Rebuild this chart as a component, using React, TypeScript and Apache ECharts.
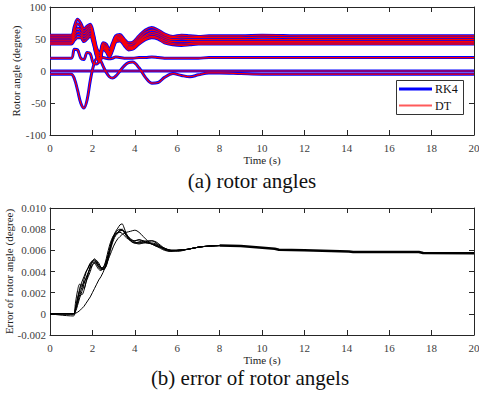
import React, { useEffect, useRef } from "react";
import * as echarts from "echarts";

// ---------- (a) rotor angles ----------
const angleTime = [0, 1.0, 1.15, 1.3, 1.45, 1.6, 1.75, 1.9, 2.05, 2.2, 2.35, 2.5, 2.65, 2.8, 2.95, 3.1, 3.3, 3.5, 3.7, 3.9, 4.2, 4.5, 4.8, 5.1, 5.4, 5.8, 6.2, 6.6, 7.0, 7.5, 8.0, 9.0, 10.0, 12, 20];

const gen1 = [56, 56, 70, 81, 75, 66, 70, 73, 58, 36, 28, 44, 42, 34, 44, 55, 57, 50, 44, 45, 55, 64, 68, 64, 58, 54, 56, 55, 54, 55, 55, 55, 56, 55, 55];
const gen2 = [53, 53, 65, 74, 70, 62, 66, 70, 55, 32, 24, 42, 38, 30, 41, 53, 55, 48, 41, 42, 51, 60, 64, 61, 56, 52, 53, 52, 52, 52, 52, 52, 53, 52, 52];
const gen3 = [50, 50, 60, 67, 65, 58, 62, 67, 52, 28, 20, 40, 36, 28, 38, 51, 53, 46, 39, 39, 48, 56, 60, 58, 53, 49, 50, 49, 49, 49, 49, 49, 49, 49, 49];
const gen4 = [47, 47, 56, 62, 60, 54, 58, 63, 48, 26, 18, 38, 34, 26, 36, 49, 51, 44, 37, 37, 46, 54, 57, 55, 50, 46, 46, 46, 46, 46, 46, 46, 46, 46, 46];
const gen5 = [44, 44, 52, 57, 56, 50, 54, 59, 45, 24, 16, 36, 32, 24, 34, 47, 49, 42, 35, 35, 44, 51, 54, 52, 47, 43, 42, 43, 44, 44, 44, 44, 44, 44, 44];
const gen6 = [42, 42, 48, 52, 52, 46, 50, 55, 42, 22, 14, 34, 30, 22, 32, 45, 47, 40, 33, 34, 42, 49, 52, 50, 44, 41, 40, 41, 42, 42, 42, 42, 42, 42, 42];
const gen7 = [20, 20, 34, 33, 20, 18, 29, 27, 12, 11, 17, 21, 20, 19, 20, 22, 21, 20, 20, 20, 21, 21, 22, 21, 20, 20, 20, 20, 20, 21, 21, 21, 21, 21, 21];
const gen8 = [0, 0, 0, 0, 0, 0, 0, 0, 0, 0, 0, 0, 0, 0, 0, 0, 0, 0, 0, 0, 0, 0, 0, 0, 0, 0, 0, 0, 0, 0, 0, 0, 0, 0, 0];
const gen9 = [-5, -5, -12, -30, -50, -58, -45, -15, 8, 19, 18, 8, -2, -9, -11, -8, 0, 8, 13, 14, 5, -10, -19, -18, -10, -4, -7, -9, -6, -3, -3, -4, -5, -5, -5];

const angleSeriesValues = [gen1, gen2, gen3, gen4, gen5, gen6, gen7, gen8, gen9];

const legendNames = ["RK4", "DT"];

// ---------- (b) error of rotor angles (in units of 0.001 degree) ----------
const errTime = [0, 1.1, 1.2, 1.3, 1.4, 1.5, 1.6, 1.7, 1.8, 1.9, 2.0, 2.1, 2.2, 2.3, 2.4, 2.5, 2.6, 2.7, 2.8, 2.9, 3.0, 3.1, 3.2, 3.3, 3.4, 3.5, 3.6, 3.8, 4.0, 4.2, 4.4, 4.6, 4.8, 5.0, 5.2, 5.4, 5.7, 6.0, 6.5, 7.0, 7.5, 8.0];

const err1 = [0, 0, 1.0, 2.2, 2.8, 2.6, 3.2, 3.9, 4.4, 4.8, 5.0, 5.0, 4.7, 4.4, 4.3, 4.4, 4.7, 5.3, 6.0, 6.7, 7.2, 7.5, 7.7, 7.9, 7.9, 7.7, 7.4, 7.0, 6.9, 7.0, 6.8, 6.7, 6.6, 6.5, 6.3, 6.1, 6.0, 6.0, 6.1, 6.3, 6.4, 6.45];
const err2 = [0, 0, 0.6, 1.5, 2.2, 2.8, 2.4, 3.0, 3.8, 4.5, 5.0, 5.1, 4.8, 4.4, 4.2, 4.2, 4.5, 5.2, 6.0, 6.8, 7.4, 7.8, 8.1, 8.4, 8.5, 8.1, 7.6, 6.9, 6.7, 6.8, 6.9, 6.8, 6.6, 6.4, 6.2, 6.0, 5.9, 6.0, 6.1, 6.3, 6.4, 6.45];
const err3 = [0, -0.2, 0.3, 1.0, 1.8, 2.5, 3.0, 3.3, 3.8, 4.4, 4.9, 5.2, 5.0, 4.6, 4.3, 4.2, 4.3, 4.8, 5.6, 6.4, 7.0, 7.4, 7.6, 7.8, 7.9, 7.8, 7.5, 7.1, 6.9, 7.0, 6.9, 6.7, 6.7, 6.6, 6.4, 6.2, 6.0, 6.0, 6.1, 6.3, 6.4, 6.45];
const err4 = [0, 0, 0.4, 1.2, 2.0, 1.8, 2.2, 3.0, 3.5, 4.0, 4.6, 4.9, 5.0, 4.8, 4.4, 4.2, 4.3, 4.9, 5.8, 6.6, 7.2, 7.5, 7.7, 7.9, 8.0, 7.8, 7.4, 6.9, 6.7, 6.7, 6.8, 6.9, 6.9, 6.7, 6.4, 6.1, 5.9, 6.0, 6.1, 6.3, 6.4, 6.45];
const err5 = [0, 0, 0.05, 0.15, 0.3, 0.5, 0.7, 1.0, 1.3, 1.6, 2.0, 2.4, 2.8, 3.2, 3.5, 3.9, 4.4, 4.9, 5.4, 5.9, 6.4, 6.8, 7.1, 7.3, 7.5, 7.6, 7.7, 7.8, 7.9, 7.7, 7.3, 6.9, 6.6, 6.4, 6.3, 6.2, 6.0, 5.9, 6.1, 6.3, 6.4, 6.45];
const err6 = [0, 0, 0.5, 1.4, 2.4, 3.0, 3.5, 4.0, 4.3, 4.7, 4.9, 4.8, 4.5, 4.2, 4.1, 4.3, 4.8, 5.6, 6.4, 7.0, 7.4, 7.6, 7.7, 7.7, 7.6, 7.4, 7.2, 6.9, 6.7, 6.6, 6.7, 6.8, 6.9, 6.8, 6.5, 6.2, 6.0, 6.0, 6.1, 6.3, 6.4, 6.45];
const err7 = [0, 0, 0.2, 0.8, 1.5, 2.1, 2.8, 3.4, 3.9, 4.3, 4.6, 4.8, 4.8, 4.6, 4.4, 4.3, 4.5, 5.1, 5.9, 6.7, 7.3, 7.7, 7.9, 8.0, 7.9, 7.7, 7.4, 7.0, 6.8, 6.7, 6.7, 6.7, 6.6, 6.5, 6.3, 6.1, 6.0, 6.0, 6.1, 6.3, 6.4, 6.45];

const errSeriesValues = [err1, err2, err3, err4, err5, err6, err7];

const errTailTime = [8.0, 9.0, 10.6, 10.8, 12, 14.1, 14.3, 17.4, 17.6, 20];
const errTail = [6.45, 6.4, 6.15, 6.05, 6.0, 5.9, 5.85, 5.85, 5.75, 5.72];

const FONT = "'Liberation Serif', 'Times New Roman', serif";
const AXIS_COLOR = "#262626";
const LABEL_COLOR = "#404040";

function pairs(t: number[], v: number[]) {
  return t.map((x, i) => [x, v[i]]);
}

function xAxisDef(grid: number, pos: "bottom" | "top", withName: boolean) {
  return {
    type: "value",
    gridIndex: grid,
    position: pos,
    min: 0,
    max: 20,
    interval: 2,
    axisLine: { show: true, onZero: false, lineStyle: { color: AXIS_COLOR, width: 1 } },
    axisTick: { show: true, inside: true, length: 5, lineStyle: { color: AXIS_COLOR } },
    axisLabel: { show: pos === "bottom", color: LABEL_COLOR, fontFamily: FONT, fontSize: 11, margin: 7 },
    splitLine: { show: false },
    name: withName ? "Time (s)" : "",
    nameLocation: "middle",
    nameGap: 19,
    nameMoveOverlap: false,
    nameTextStyle: { color: "#222", fontFamily: FONT, fontSize: 11 },
  };
}

function yAxisDef(grid: number, pos: "left" | "right", min: number, max: number, interval: number, name: string, fmt?: (v: number) => string, gap = 30) {
  return {
    type: "value",
    gridIndex: grid,
    position: pos,
    min,
    max,
    interval,
    axisLine: { show: true, onZero: false, lineStyle: { color: AXIS_COLOR, width: 1 } },
    axisTick: { show: true, inside: true, length: 5, lineStyle: { color: AXIS_COLOR } },
    axisLabel: { show: pos === "left", color: LABEL_COLOR, fontFamily: FONT, fontSize: 11, margin: 4, formatter: fmt },
    splitLine: { show: false },
    name: pos === "left" ? name : "",
    nameLocation: "middle",
    nameGap: gap,
    nameMoveOverlap: false,
    nameTextStyle: { color: "#222", fontFamily: FONT, fontSize: 11 },
  };
}

function legendText(text: string, x: number, y: number) {
  return {
    type: "text",
    x,
    y,
    z: 101,
    style: {
      text,
      font: "12px " + FONT,
      fill: "#111",
      align: "left",
      verticalAlign: "middle",
      textAlign: "left",
      textVerticalAlign: "middle",
    },
  };
}

export default function App() {
  const ref = useRef<HTMLDivElement>(null);
  useEffect(() => {
    if (!ref.current) return;
    const chart = echarts.init(ref.current, null, { renderer: "svg" });

    const blue = angleSeriesValues.map((g) => ({
      type: "line",
      name: legendNames[0],
      xAxisIndex: 0,
      yAxisIndex: 0,
      data: pairs(angleTime, g),
      symbol: "none",
      smooth: 0.35,
      lineStyle: { color: "#0000ff", width: 3 },
      itemStyle: { color: "#0000ff" },
      z: 2,
    }));
    const red = angleSeriesValues.map((g) => ({
      type: "line",
      name: legendNames[1],
      xAxisIndex: 0,
      yAxisIndex: 0,
      data: pairs(angleTime, g),
      symbol: "none",
      smooth: 0.35,
      lineStyle: { color: "#ff0000", width: 1.2 },
      itemStyle: { color: "#ff0000" },
      z: 3,
    }));
    const errs = errSeriesValues.map((e, i) => ({
      type: "line",
      name: "err" + i,
      xAxisIndex: 2,
      yAxisIndex: 2,
      data: pairs(errTime, e),
      symbol: "none",
      smooth: 0.35,
      lineStyle: { color: "#000000", width: 1 },
      z: 2,
    }));
    const tail = {
      type: "line",
      name: "errTail",
      xAxisIndex: 2,
      yAxisIndex: 2,
      data: pairs(errTailTime, errTail),
      symbol: "none",
      lineStyle: { color: "#000000", width: 2.5 },
      z: 2,
    };

    chart.setOption({
      animation: false,
      backgroundColor: "#ffffff",
      grid: [
        { left: 50, top: 7, width: 424, height: 128, outerBoundsMode: "none", containLabel: false },
        { left: 50, top: 208, width: 424, height: 127, outerBoundsMode: "none", containLabel: false },
      ],
      title: [
        { text: "(a) rotor angles", left: 252, top: 172, textAlign: "center", textStyle: { fontFamily: FONT, fontSize: 21, lineHeight: 18, fontWeight: "normal", color: "#111" }, padding: 0 },
        { text: "(b) error of rotor angels", left: 250, top: 369, textAlign: "center", textStyle: { fontFamily: FONT, fontSize: 21, lineHeight: 18, fontWeight: "normal", color: "#111" }, padding: 0 },
      ],
      graphic: [
        { type: "rect", z: 100, shape: { x: 396.5, y: 80.5, width: 67, height: 34 }, style: { fill: "#ffffff", stroke: "#333333", lineWidth: 1 } },
        { type: "line", z: 101, shape: { x1: 399, y1: 89, x2: 432, y2: 89 }, style: { stroke: "#0000ff", lineWidth: 3 } },
        { type: "line", z: 101, shape: { x1: 399, y1: 105.5, x2: 432, y2: 105.5 }, style: { stroke: "#ff5a5a", lineWidth: 2 } },
        legendText(legendNames[0], 435, 89),
        legendText(legendNames[1], 435, 106),
      ],
      xAxis: [xAxisDef(0, "bottom", true), xAxisDef(0, "top", false), xAxisDef(1, "bottom", true), xAxisDef(1, "top", false)],
      yAxis: [
        yAxisDef(0, "left", -100, 100, 50, "Rotor angle (degree)", undefined, 29),
        yAxisDef(0, "right", -100, 100, 50, ""),
        yAxisDef(1, "left", -2, 10, 2, "Error of rotor angle (degree)", (v: number) => (v === 0 ? "0" : (v / 1000).toFixed(3)), 36),
        yAxisDef(1, "right", -2, 10, 2, ""),
      ],
      series: [...blue, ...red, ...errs, tail],
    });
    return () => chart.dispose();
  }, []);
  return <div ref={ref} style={{ position: "fixed", left: 0, top: 0, width: 479, height: 396 }} />;
}
